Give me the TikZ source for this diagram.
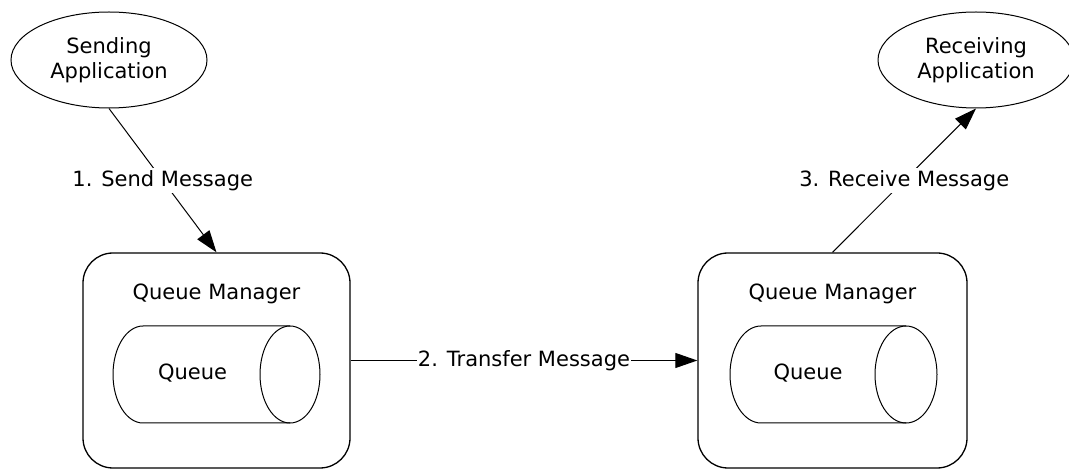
\documentclass[tikz,border=0pt]{standalone}
\usepackage{fontspec}
\setmainfont{DejaVu Sans}
\usetikzlibrary{shapes.geometric,arrows.meta}
\tikzset{
  app/.style={ellipse,draw=black,line width=1pt,minimum width=196pt,minimum height=96pt,inner sep=0pt,align=center,font=\fontsize{21}{25}\selectfont},
  mgr/.style={rectangle,draw=black,line width=1.3pt,rounded corners=30pt,minimum height=215pt,inner sep=0pt},
  txt/.style={inner sep=0pt,font=\fontsize{21}{25}\selectfont,anchor=base},
  lbl/.style={fill=white,inner xsep=1pt,inner ysep=2.5pt,font=\fontsize{21}{25}\selectfont},
  arr/.style={line width=1pt,-{Triangle[length=22pt,width=15pt]}},
  cyl/.style={draw=black,line width=1pt}
}
\begin{document}
\begin{tikzpicture}[x=1pt,y=-1pt]
\useasboundingbox (0,0) rectangle (1069,470);
% applications
\node[app] (send) at (109,60) {Sending\\Application};
\node[app] (recv) at (976,60) {Receiving\\Application};
% queue managers
\node[mgr,minimum width=267pt] (qm1) at (216.5,360.5) {};
\node[mgr,minimum width=269pt] (qm2) at (832.5,360.5) {};
\node[txt] (qm1t) at (216.5,300) {Queue Manager};
\node[txt] (qm2t) at (832.5,300) {Queue Manager};
% queues (cylinders)
\draw[cyl] (290,326) -- (143,326) arc[start angle=270,end angle=90,x radius=30,y radius=48.5] -- (290,423);
\draw[cyl] (290,374.5) ellipse [x radius=30,y radius=48.5];
\node[txt] (q1) at (192.5,380) {Queue};
\draw[cyl] (906,326) -- (761,326) arc[start angle=270,end angle=90,x radius=31,y radius=48.5] -- (906,423);
\draw[cyl] (906,374.5) ellipse [x radius=31,y radius=48.5];
\node[txt] (q2) at (808,380) {Queue};
% connectors
\draw[arr] (send.south) -- node[lbl] {1. Send Message} (qm1.north);
\draw[arr] (qm1.east) -- node[lbl] {2. Transfer Message} (qm2.west);
\draw[arr] (qm2.north) -- node[lbl] {3. Receive Message} (recv.south);
\end{tikzpicture}
\end{document}
